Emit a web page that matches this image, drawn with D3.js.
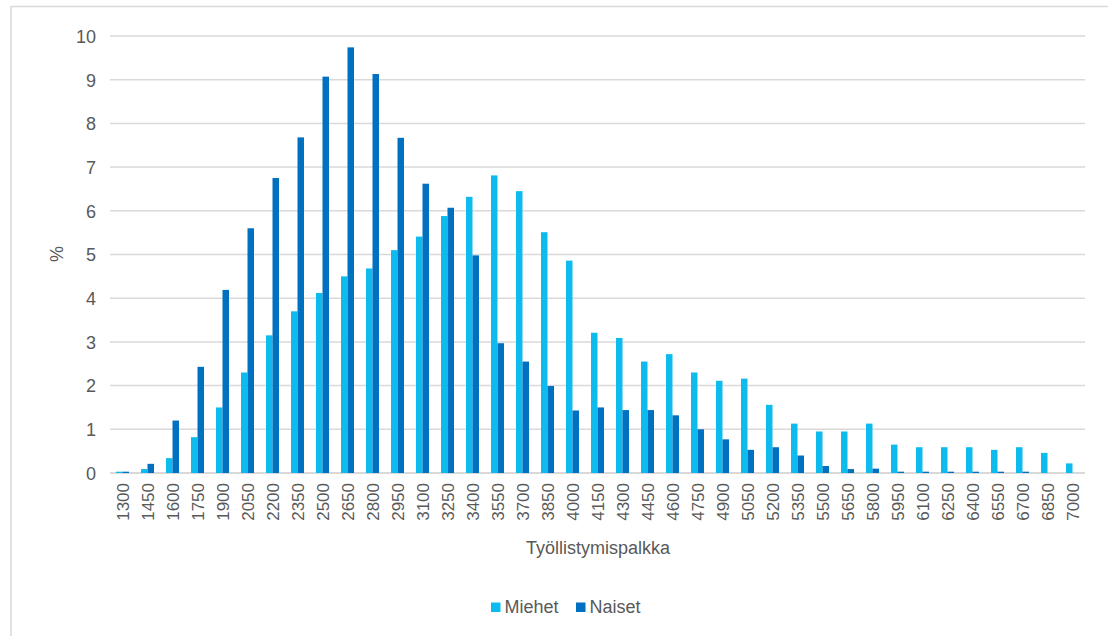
<!DOCTYPE html>
<html>
<head>
<meta charset="utf-8">
<script src="https://cdn.jsdelivr.net/npm/d3@7/dist/d3.min.js"></script>
<style>
html,body{margin:0;padding:0;background:#fff;}
svg{display:block;}
text{font-family:"Liberation Sans",Arial,sans-serif;fill:#595959;}
</style>
</head>
<body>
<svg id="chart" width="1108" height="636"></svg>
<script>
const categories = ["1300","1450","1600","1750","1900","2050","2200","2350","2500","2650","2800","2950","3100","3250","3400","3550","3700","3850","4000","4150","4300","4450","4600","4750","4900","5050","5200","5350","5500","5650","5800","5950","6100","6250","6400","6550","6700","6850","7000"];
const miehet = [0.03,0.09,0.34,0.82,1.5,2.3,3.15,3.7,4.12,4.5,4.68,5.1,5.41,5.88,6.32,6.81,6.45,5.51,4.86,3.21,3.09,2.55,2.72,2.3,2.11,2.16,1.56,1.13,0.95,0.95,1.13,0.65,0.59,0.59,0.59,0.53,0.59,0.46,0.22];
const naiset = [0.03,0.21,1.2,2.43,4.19,5.6,6.75,7.68,9.07,9.74,9.13,7.67,6.62,6.07,4.98,2.97,2.55,1.99,1.43,1.5,1.44,1.44,1.32,1.0,0.77,0.53,0.59,0.4,0.16,0.09,0.1,0.03,0.03,0.03,0.03,0.03,0.03,0,0];
const yTicks = [0,1,2,3,4,5,6,7,8,9,10];
const seriesNames = ["Miehet","Naiset"];
const colors = ["#0DBBEF","#0070C0"];

(function(){
const svg = d3.select("#chart");
// outer frame
svg.append("rect").attr("x",11).attr("y",6.5).attr("width",1120).attr("height",660)
  .attr("fill","none").attr("stroke","#d9d9d9").attr("stroke-width",1.5);

const pLeft = 110, pRight = 1085, pTop = 36, pBottom = 473;
const x = d3.scaleBand().domain(categories).range([pLeft,pRight]).paddingInner(0).paddingOuter(0);
const y = d3.scaleLinear().domain([0,10]).range([pBottom,pTop]);

// gridlines
svg.append("g").selectAll("line").data(yTicks).join("line")
  .attr("x1",pLeft).attr("x2",pRight)
  .attr("y1",d=>y(d)).attr("y2",d=>y(d))
  .attr("stroke","#d9d9d9").attr("stroke-width",d=>d===0?2:1.5);

// y axis labels
const yAxis = d3.axisLeft(y).tickValues(yTicks).tickSize(0).tickPadding(0);
const gy = svg.append("g").attr("transform",`translate(96,0)`).call(yAxis);
gy.select(".domain").remove();
gy.selectAll("text").style("font-size","18px").attr("fill","#595959").attr("x",0).attr("dy","0.35em");

// bars
const bw = 6.5;
const data = [miehet, naiset];
data.forEach((vals,si)=>{
  svg.append("g").selectAll("rect").data(vals).join("rect")
    .attr("x",(d,i)=>x(categories[i]) + x.bandwidth()/2 - bw + si*bw)
    .attr("width",bw)
    .attr("y",d=>y(d))
    .attr("height",d=>Math.max(0,y(0)-y(d)))
    .attr("fill",colors[si]);
});

// x axis labels
const xAxis = d3.axisBottom(x).tickSize(0).tickPadding(0);
const gx = svg.append("g").attr("transform",`translate(0,${pBottom})`).call(xAxis);
gx.select(".domain").remove();
gx.selectAll("text").style("font-size","17px").attr("fill","#595959")
  .attr("text-anchor","end").attr("transform","rotate(-90)")
  .attr("x",-10).attr("y",0).attr("dy","0.36em");

// axis titles
svg.append("text").attr("transform","translate(63,254) rotate(-90)")
  .attr("text-anchor","middle").style("font-size","18px").text("%");
svg.append("text").attr("x",598).attr("y",554)
  .attr("text-anchor","middle").style("font-size","18px").text("Työllistymispalkka");

// legend
const legendX = [491,576];
seriesNames.forEach((n,i)=>{
  svg.append("rect").attr("x",legendX[i]).attr("y",602.5).attr("width",9.5).attr("height",9.5).attr("fill",colors[i]);
  svg.append("text").attr("x",legendX[i]+13.5).attr("y",613).style("font-size","18px").text(n);
});
})();
</script>
</body>
</html>
